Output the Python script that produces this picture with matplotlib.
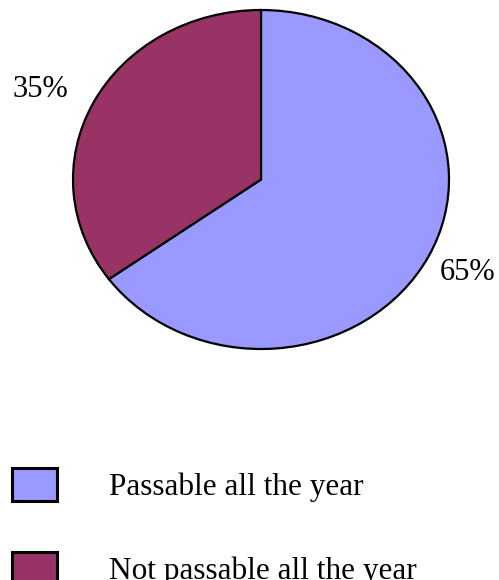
import matplotlib.pyplot as plt

labels = ["Passable all the year", "Not passable all the year"]
shares = [65, 35]
colors = ["#9999ff", "#993366"]

plt.rcParams["font.family"] = ["Liberation Serif", "DejaVu Serif"]

W, H = 499, 580
fig = plt.figure(figsize=(W / 100, H / 100), dpi=100)

# pie box in pixels: x 73..449, y 10..349 (slightly squashed ellipse)
ax = fig.add_axes([73 / W, 1 - 349 / H, 376 / W, 339 / H])
wedges, texts, autotexts = ax.pie(
    shares, colors=colors, startangle=90, counterclock=False,
    autopct="%d%%", pctdistance=1.25,
    wedgeprops=dict(edgecolor="black", linewidth=1.6),
    textprops=dict(fontsize=22, color="black"),
)
for w in wedges:
    w.set_clip_on(False)
# percentage labels sit a little off the mid-angle in the original
autotexts[0].set_position((1.10, -0.55))
autotexts[1].set_position((-1.175, 0.53))
ax.set_aspect("auto")
ax.set_xlim(-1, 1)
ax.set_ylim(-1, 1)
ax.axis("off")

leg = fig.legend(
    wedges, labels, loc="upper left", bbox_to_anchor=(12 / W, 1 - 468 / H),
    frameon=False, fontsize=22.5, borderpad=0, borderaxespad=0,
    handlelength=1.45, handleheight=1.25, handletextpad=1.65, labelspacing=1.6,
)
for h in leg.legend_handles:
    h.set_linewidth(2.2)

fig.savefig("out.png", dpi=100)
